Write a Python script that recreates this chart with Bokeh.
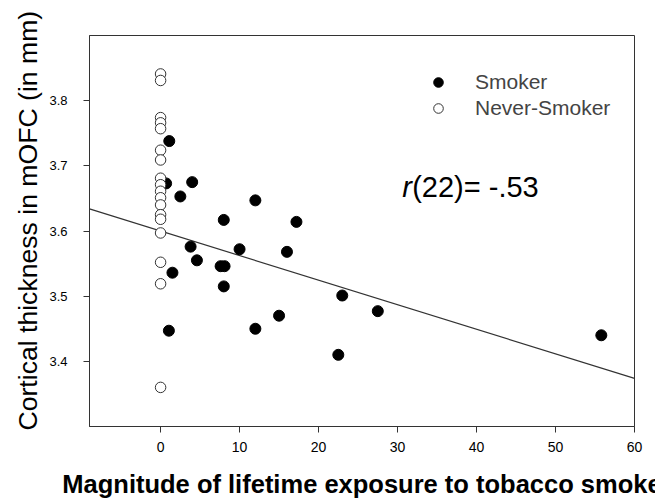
from bokeh.plotting import figure
from bokeh.models import FixedTicker, Legend, LegendItem, Label, Title
from bokeh.embed import file_html
from bokeh.resources import INLINE
import numpy as np

# ---- data ----
smoker_x = [1.1, 0.7, 4.0, 2.5, 12.0, 8.0, 17.2, 3.8, 10.0, 16.0, 4.6, 1.5,
            7.6, 8.1, 8.0, 23.0, 27.5, 15.0, 1.05, 12.0, 22.5, 55.8]
smoker_y = [3.738, 3.673, 3.675, 3.653, 3.647, 3.617, 3.614, 3.576, 3.572, 3.568, 3.555, 3.536,
            3.546, 3.546, 3.515, 3.501, 3.477, 3.470, 3.447, 3.450, 3.410, 3.440]

never_x = [0] * 18
never_y = [3.841, 3.831, 3.774, 3.766, 3.757, 3.724, 3.709, 3.681, 3.671, 3.661,
           3.651, 3.640, 3.625, 3.618, 3.597, 3.552, 3.519, 3.360]

fit_intercept = 3.600
fit_slope = -0.00377

x_ticks = [0, 10, 20, 30, 40, 50, 60]
y_ticks = [3.4, 3.5, 3.6, 3.7, 3.8]
x_start, x_end = -9, 60
y_start, y_end = 3.3, 3.9

FONT = "Liberation Sans"
LINE = "#333333"

p = figure(width=655, height=500, x_range=(x_start, x_end), y_range=(y_start, y_end),
           output_backend="svg", toolbar_location=None,
           min_border_left=89, min_border_right=21, min_border_top=35, min_border_bottom=73)

p.grid.visible = False
p.outline_line_color = LINE
p.outline_line_width = 1
p.background_fill_color = "white"
p.border_fill_color = "white"

for ax in (p.xaxis[0], p.yaxis[0]):
    ax.axis_line_color = LINE
    ax.major_tick_line_color = LINE
    ax.major_tick_out = 6
    ax.major_tick_in = 0
    ax.minor_tick_out = 0
    ax.minor_tick_in = 0
    ax.major_label_text_font = FONT
    ax.major_label_text_color = "black"

p.xaxis.ticker = FixedTicker(ticks=x_ticks)
p.yaxis.ticker = FixedTicker(ticks=y_ticks)
p.xaxis.major_label_text_font_size = "14px"
p.yaxis.major_label_text_font_size = "13px"
p.xaxis.major_label_standoff = 9
p.yaxis.major_label_standoff = 16

p.xaxis.axis_label = "Magnitude of lifetime exposure to tobacco smoke"
p.xaxis.axis_label_text_font = FONT
p.xaxis.axis_label_text_font_size = "25.5px"
p.xaxis.axis_label_text_font_style = "bold"
p.xaxis.axis_label_text_color = "black"
p.xaxis.axis_label_standoff = 15

ytitle = Title(text="Cortical thickness in mOFC (in mm)", align="left", offset=-4,
               text_font=FONT, text_font_size="26.6px", text_font_style="normal",
               text_color="black", standoff=8)
p.add_layout(ytitle, "left")

# regression line
lx = np.array([x_start, x_end], dtype=float)
ly = fit_intercept + fit_slope * lx
p.line(lx, ly, line_color=LINE, line_width=1.2)

r_s = p.scatter(smoker_x, smoker_y, size=11, marker="circle",
                fill_color="black", line_color="black")
r_n = p.scatter(never_x, never_y, size=10.5, marker="circle",
                fill_color="white", line_color=LINE, line_width=1)

legend = Legend(items=[LegendItem(label="Smoker", renderers=[r_s]),
                       LegendItem(label="Never-Smoker", renderers=[r_n])],
                location=(337, 306), orientation="vertical",
                label_text_font=FONT, label_text_font_size="21px",
                glyph_width=24, glyph_height=24, label_standoff=25,
                spacing=2, padding=0, margin=0,
                border_line_alpha=0, background_fill_alpha=0)
p.add_layout(legend)

r_label = Label(x=30.6, y=3.6676, text="r", text_font=FONT, text_font_size="29px",
                text_font_style="italic", text_color="black", text_baseline="alphabetic")
eq_label = Label(x=31.85, y=3.6676, text="(22)= -.53", text_font=FONT, text_font_size="29px",
                 text_color="black", text_baseline="alphabetic")
p.add_layout(r_label)
p.add_layout(eq_label)

open("out.html", "w").write(file_html(p, INLINE))
